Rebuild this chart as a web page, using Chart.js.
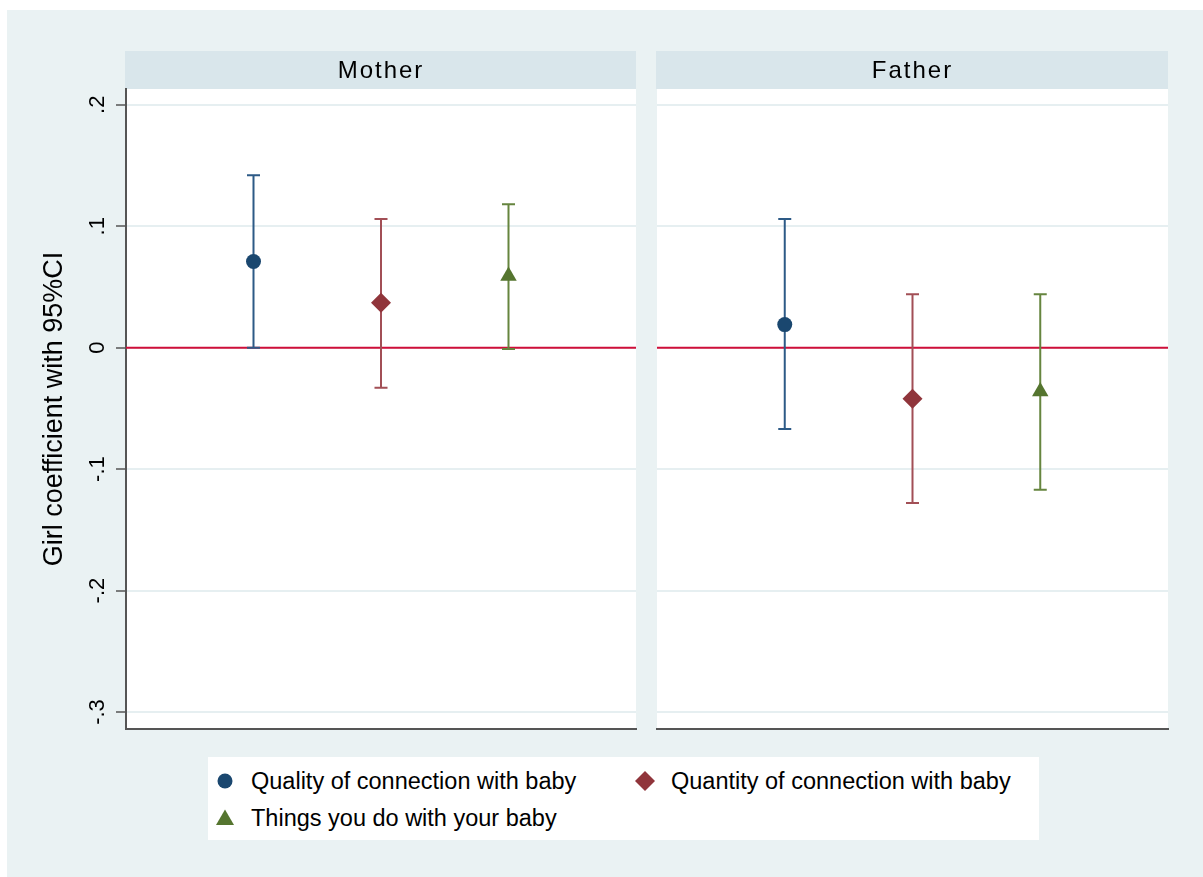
<!DOCTYPE html>
<html>
<head>
<meta charset="utf-8">
<script src="https://cdn.jsdelivr.net/npm/chart.js@4"></script>
<style>
  body { margin: 0; background: #fff; width: 1203px; height: 877px; position: relative; overflow: hidden;
         font-family: "Liberation Sans", Arial, sans-serif; }
  #bg { position: absolute; left: 7px; top: 10px; right: 0; bottom: 0; background: #eaf2f3; }
  canvas { position: absolute; top: 0; }
  #legend { position: absolute; left: 208px; top: 757px; width: 831px; height: 83px; background: #fff; }
  .item { position: absolute; height: 28px; display: flex; align-items: center; white-space: nowrap;
          font-size: 23.5px; color: #000; }
  .item span { margin-left: 14px; }
</style>
</head>
<body>
<div id="bg"></div>
<canvas id="c-mother" width="646" height="877" style="left:0"></canvas>
<canvas id="c-father" width="563" height="877" style="left:640px"></canvas>
<div id="legend"></div>
<script>
// Coefficient "fille" avec IC 95 %, un panneau par parent
const panels = ["Mother", "Father"];
const categories = ["Quality of connection with baby", "Quantity of connection with baby", "Things you do with your baby"];
const xPos = [1, 2, 3];

const motherCoef = [0.071, 0.037, 0.059];
const motherLo = [0.000, -0.033, -0.001];
const motherHi = [0.142, 0.106, 0.118];

const fatherCoef = [0.019, -0.042, -0.036];
const fatherLo = [-0.067, -0.128, -0.117];
const fatherHi = [0.106, 0.044, 0.044];

const yTicks = [-0.3, -0.2, -0.1, 0, 0.1, 0.2];
const yMin = -0.314, yMax = 0.213;

const markerColors = ["#1a476f", "#90353b", "#55752f"];
const barColors = ["#2d5a86", "#a24f56", "#66853f"];
const pointStyles = ["circle", "rectRot", "triangle"];
const pointRadii = [7.5, 10, 9.5];
const FONT = '"Liberation Sans", Arial, sans-serif';

function fmtTick(v) {
  const s = (Math.round(v * 10) / 10).toFixed(1);
  if (s === "0.0" || s === "-0.0") return "0";
  return s.replace("0.", ".");
}

const panelDecor = {
  id: "panelDecor",
  beforeDraw(chart, args, opts) {
    const { ctx, chartArea: a } = chart;
    ctx.save();
    ctx.fillStyle = "#fff";
    ctx.fillRect(a.left, a.top, a.right - a.left, a.bottom - a.top);
    ctx.fillStyle = "#d9e6eb";
    ctx.fillRect(a.left - 1, a.top - 38, a.right - a.left + 1, 38);
    ctx.fillStyle = "#000";
    ctx.font = "24px " + FONT;
    ctx.textAlign = "center";
    ctx.textBaseline = "middle";
    ctx.letterSpacing = "2px";
    ctx.fillText(opts.title, (a.left + a.right) / 2, a.top - 18);
    ctx.restore();
  },
  beforeDatasetsDraw(chart) {
    const { ctx, chartArea: a, scales: { x, y } } = chart;
    ctx.save();
    // ligne zero
    const y0 = y.getPixelForValue(0);
    ctx.strokeStyle = "#cf0f3a";
    ctx.lineWidth = 2;
    ctx.beginPath(); ctx.moveTo(a.left, y0); ctx.lineTo(a.right, y0); ctx.stroke();
    // intervalles de confiance
    chart.data.datasets.forEach(ds => {
      ds.data.forEach((p, i) => {
        const px = x.getPixelForValue(p.x);
        const yl = y.getPixelForValue(ds.lo[i]), yh = y.getPixelForValue(ds.hi[i]);
        ctx.strokeStyle = ds.barColor;
        ctx.lineWidth = 2;
        ctx.beginPath();
        ctx.moveTo(px, yl); ctx.lineTo(px, yh);
        ctx.moveTo(px - 6.5, yl); ctx.lineTo(px + 6.5, yl);
        ctx.moveTo(px - 6.5, yh); ctx.lineTo(px + 6.5, yh);
        ctx.stroke();
      });
    });
    ctx.restore();
  },
  afterDraw(chart, args, opts) {
    if (!opts.tickLabels) return;
    const { ctx, scales: { y } } = chart;
    ctx.save();
    ctx.fillStyle = "#000";
    ctx.font = "22px " + FONT;
    ctx.textAlign = "center";
    ctx.textBaseline = "middle";
    y.ticks.forEach(t => {
      ctx.save();
      ctx.translate(98, y.getPixelForValue(t.value));
      ctx.rotate(-Math.PI / 2);
      ctx.fillText(fmtTick(t.value), 0, 0);
      ctx.restore();
    });
    ctx.restore();
  }
};

function makePanel(canvasId, title, coef, lo, hi, first) {
  const datasets = categories.map((c, i) => ({
    label: c,
    data: [{ x: xPos[i], y: coef[i] }],
    lo: [lo[i]],
    hi: [hi[i]],
    barColor: barColors[i],
    pointStyle: pointStyles[i],
    pointRadius: pointRadii[i],
    pointBackgroundColor: markerColors[i],
    pointBorderColor: markerColors[i],
    pointBorderWidth: 0,
    showLine: false,
  }));

  return new Chart(document.getElementById(canvasId), {
    type: "scatter",
    data: { datasets },
    plugins: [panelDecor],
    options: {
      responsive: false,
      animation: false,
      events: [],
      layout: { padding: first ? { top: 89, bottom: 148, left: 0, right: 4 } : { top: 89, bottom: 148, left: 17, right: 35 } },
      plugins: {
        legend: { display: false },
        tooltip: { enabled: false },
        panelDecor: { title, tickLabels: first },
      },
      scales: {
        x: {
          type: "linear", min: 0, max: 4,
          ticks: { display: false },
          grid: { display: false },
          border: { display: true, color: "#555", width: 2 },
          afterFit: s => { s.height = 0; },
        },
        y: {
          type: "linear", min: yMin, max: yMax,
          afterBuildTicks: s => { s.ticks = yTicks.map(v => ({ value: v })); },
          ticks: { display: false },
          grid: {
            color: "#e6eff1", lineWidth: 2,
            drawTicks: first, tickLength: 10, tickColor: "#555", tickWidth: 1.5,
          },
          border: { display: first, color: "#555", width: 2 },
          title: {
            display: first, text: "Girl coefficient with 95%CI", color: "#000",
            font: { size: 27, family: FONT }, padding: { top: 38, bottom: 0 },
          },
          afterFit: s => { s.width = first ? 126 : 0; },
        },
      },
    },
  });
}

makePanel("c-mother", panels[0], motherCoef, motherLo, motherHi, true);
makePanel("c-father", panels[1], fatherCoef, fatherLo, fatherHi, false);

// legende
const markerSvg = [
  '<circle cx="12" cy="12" r="7.5" fill="' + markerColors[0] + '"/>',
  '<polygon points="12,2 22,12 12,22 2,12" fill="' + markerColors[1] + '"/>',
  '<polygon points="12,3.5 21,19 3,19" fill="' + markerColors[2] + '"/>',
];
const legendCols = [5, 425];
const legendRows = [10, 47];
document.getElementById("legend").innerHTML = categories.map((c, i) =>
  `<div class="item" style="left:${legendCols[i % 2]}px;top:${legendRows[Math.floor(i / 2)]}px">` +
  `<svg width="24" height="24">${markerSvg[i]}</svg><span>${c}</span></div>`
).join("");
</script>
</body>
</html>
